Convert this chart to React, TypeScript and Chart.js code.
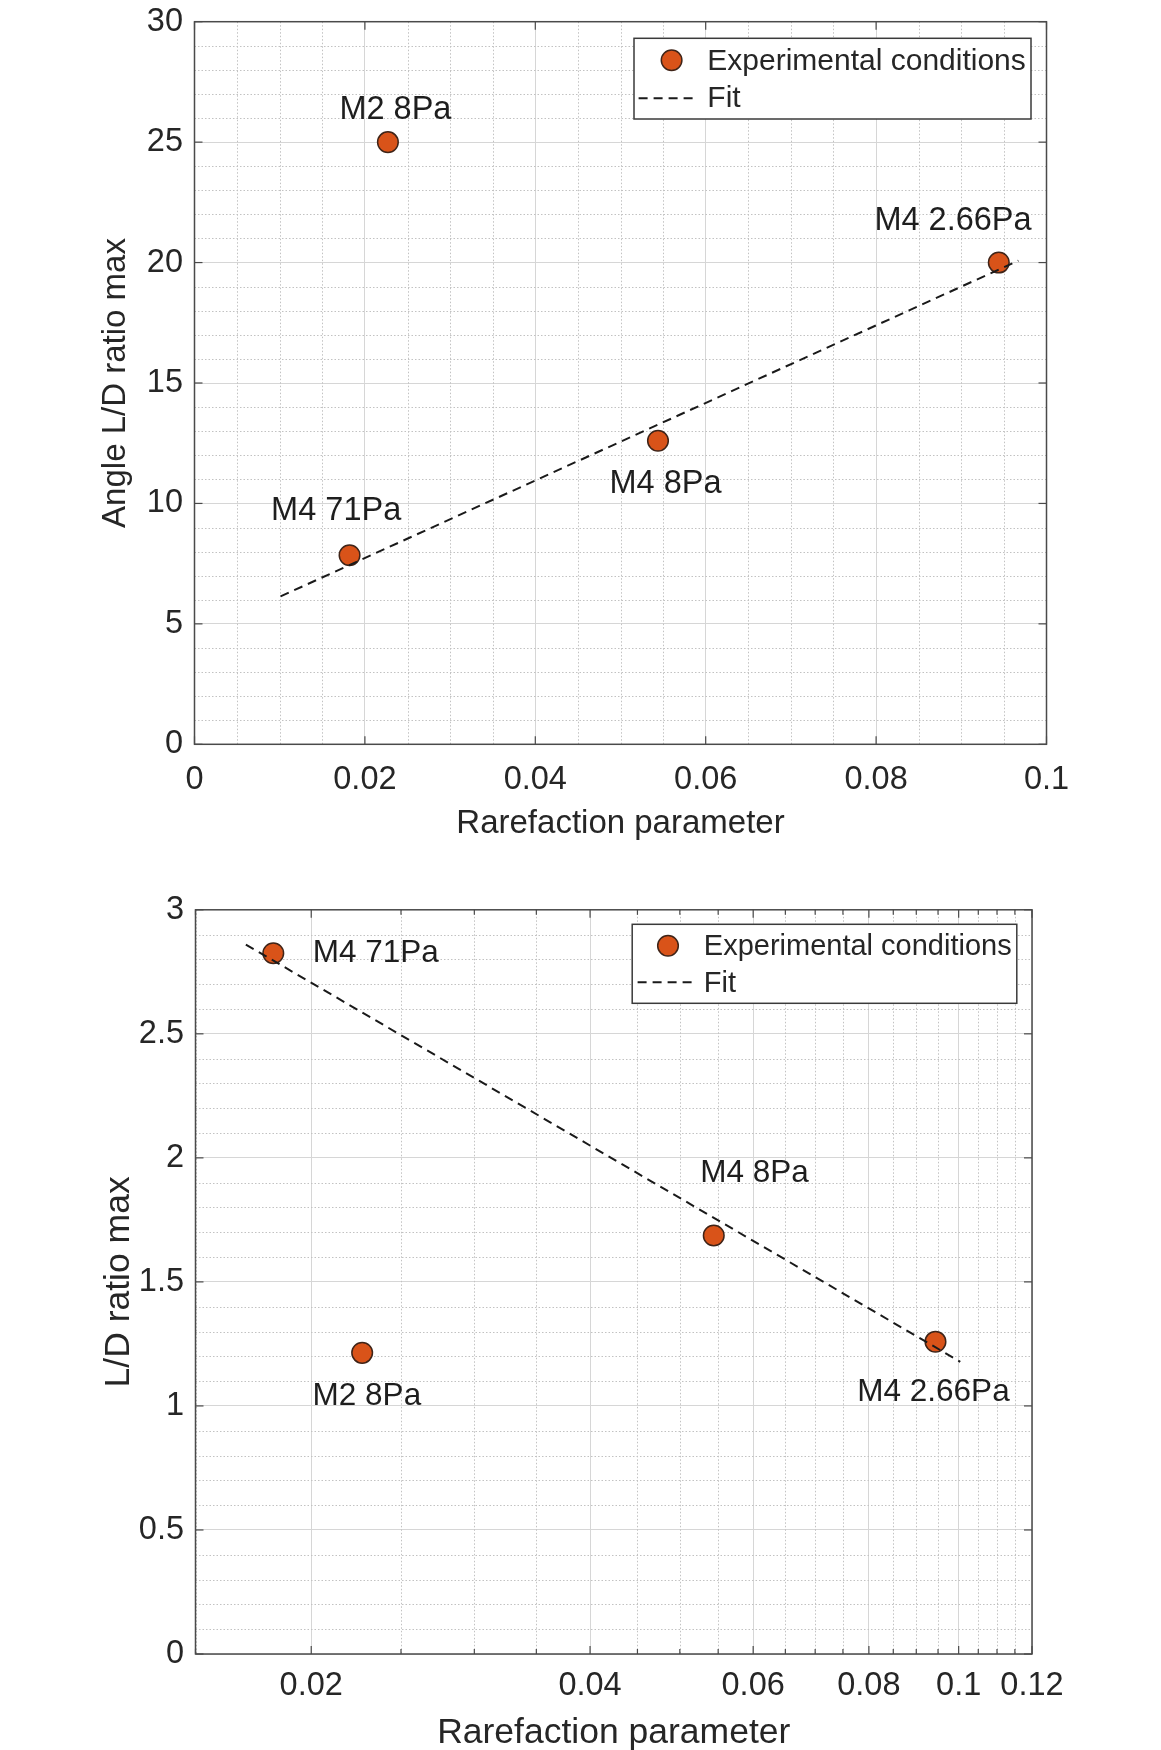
import React, { useEffect, useRef } from "react";
import { Chart, registerables } from "chart.js";

Chart.register(...registerables);

// ---------------- data ----------------
const pointLabels = ["M4 71Pa", "M2 8Pa", "M4 8Pa", "M4 2.66Pa"];
const rarefactionParameter = [0.0182, 0.0227, 0.0544, 0.0944];
const angleLDRatioMax = [7.85, 25.0, 12.6, 20.0];
const ldRatioMax = [2.825, 1.214, 1.687, 1.259];

const angleFitX = [0.0101, 0.0967];
const angleFitY = [6.14, 20.08];
const ldFitX = [0.0170, 0.1004];
const ldFitY = [2.86, 1.178];

const legendLabels = ["Experimental conditions", "Fit"];
const xAxisTitle = "Rarefaction parameter";
const angleYAxisTitle = "Angle L/D ratio max";
const ldYAxisTitle = "L/D ratio max";

const angleXTicks = [0, 0.02, 0.04, 0.06, 0.08, 0.1];
const angleXTickLabels = ["0", "0.02", "0.04", "0.06", "0.08", "0.1"];
const angleYTicks = [0, 5, 10, 15, 20, 25, 30];
const angleYTickLabels = ["0", "5", "10", "15", "20", "25", "30"];
const ldXTicks = [0.02, 0.04, 0.06, 0.08, 0.1, 0.12];
const ldXTickLabels = ["0.02", "0.04", "0.06", "0.08", "0.1", "0.12"];
const ldYTicks = [0, 0.5, 1, 1.5, 2, 2.5, 3];
const ldYTickLabels = ["0", "0.5", "1", "1.5", "2", "2.5", "3"];

// minor grid spacing
const angleXMinorStep = 0.005;
const angleYMinorStep = 1;
const ldXMinorStep = 0.005;
const ldYMinorStep = 0.1;

// ---------------- styles ----------------
const FONT = '"Liberation Sans", Arial, Helvetica, sans-serif';
const MARKER_FILL = "#D95319";
const MARKER_EDGE = "#3f2418";
const TEXT = "#262626";
const NOTE = "#1e1e1e";
const AXIS = "#4a4a4a";
const GRID_MAJOR = "#d6d6d6";
const GRID_MINOR = "#c2c2c2";

function steps(from: number, to: number, step: number): number[] {
  const out: number[] = [];
  const n = Math.round((to - from) / step);
  for (let i = 0; i <= n; i++) out.push(Math.round((from + i * step) * 1e6) / 1e6);
  return out;
}

type Panel = {
  canvasTop: number;
  canvasHeight: number;
  xType: "linear" | "logarithmic";
  xMin: number;
  xMax: number;
  yMin: number;
  yMax: number;
  xTicks: number[];
  xTickLabels: string[];
  yTicks: number[];
  yTickLabels: string[];
  xMinor: number[];
  yMinor: number[];
  xMinorMarks: boolean;
  yValues: number[];
  fitX: number[];
  fitY: number[];
  yTitle: string;
  padTop: number;
  padRight: number;
  yAxisWidth: number;
  xAxisHeight: number;
  xTickPad: number;
  yTickPad: number;
  xTitlePad: number;
  yTitlePad: number;
  tickFont: number;
  titleFont: number;
  legendFont: number;
  noteFont: number;
  noteOffsets: number[][];
  legend: {
    insetRight: number;
    insetTop: number;
    width: number;
    height: number;
    markerDx: number;
    markerDy: number;
    lineX0: number;
    lineX1: number;
    lineDy: number;
    textDx: number;
    row1Dy: number;
    row2Dy: number;
  };
};

const anglePanel: Panel = {
  canvasTop: 0,
  canvasHeight: 880,
  xType: "linear",
  xMin: 0,
  xMax: 0.1,
  yMin: 0,
  yMax: 30,
  xTicks: angleXTicks,
  xTickLabels: angleXTickLabels,
  yTicks: angleYTicks,
  yTickLabels: angleYTickLabels,
  xMinor: steps(0, 0.1, angleXMinorStep),
  yMinor: steps(0, 30, angleYMinorStep),
  xMinorMarks: false,
  yValues: angleLDRatioMax,
  fitX: angleFitX,
  fitY: angleFitY,
  yTitle: angleYAxisTitle,
  padTop: 21.7,
  padRight: 114.5,
  yAxisWidth: 194.5,
  xAxisHeight: 135.7,
  xTickPad: 16,
  yTickPad: 11.5,
  xTitlePad: 39.5,
  yTitlePad: 99.5,
  tickFont: 32.5,
  titleFont: 33,
  legendFont: 30,
  noteFont: 32.5,
  noteOffsets: [[-13.4, -44.6], [7.5, -32.5], [7.5, 43.5], [-45.8, -41.5]],
  legend: {
    insetRight: 15.5,
    insetTop: 16.6,
    width: 397,
    height: 80.7,
    markerDx: 37.6,
    markerDy: 21.9,
    lineX0: 4.6,
    lineX1: 63.3,
    lineDy: 60,
    textDx: 73.3,
    row1Dy: 23,
    row2Dy: 60.5,
  },
};

const ldPanel: Panel = {
  canvasTop: 880,
  canvasHeight: 870,
  xType: "logarithmic",
  xMin: 0.015,
  xMax: 0.12,
  yMin: 0,
  yMax: 3,
  xTicks: ldXTicks,
  xTickLabels: ldXTickLabels,
  yTicks: ldYTicks,
  yTickLabels: ldYTickLabels,
  xMinor: steps(0.015, 0.12, ldXMinorStep),
  yMinor: steps(0, 3, ldYMinorStep),
  xMinorMarks: true,
  yValues: ldRatioMax,
  fitX: ldFitX,
  fitY: ldFitY,
  yTitle: ldYAxisTitle,
  padTop: 29.8,
  padRight: 129,
  yAxisWidth: 195.5,
  xAxisHeight: 96,
  xTickPad: 12.5,
  yTickPad: 11.5,
  xTitlePad: -0.8,
  yTitlePad: 101,
  tickFont: 32.5,
  titleFont: 35.5,
  legendFont: 29,
  noteFont: 31.5,
  noteOffsets: [[102.5, 0], [4.7, 43.7], [40.7, -62.3], [-2, 50.3]],
  legend: {
    insetRight: 15.2,
    insetTop: 14.5,
    width: 384.6,
    height: 79,
    markerDx: 35.8,
    markerDy: 21.4,
    lineX0: 5.4,
    lineX1: 61.5,
    lineDy: 58,
    textDx: 71.6,
    row1Dy: 23,
    row2Dy: 60,
  },
};

function isMajor(v: number, majors: number[]) {
  return majors.some((m) => Math.abs(m - v) < 1e-9);
}

function makeDecor(p: Panel) {
  return {
    id: "matlabDecor",
    beforeDatasetsDraw(chart: any) {
      const { ctx, chartArea: a } = chart;
      const xs = chart.scales.x;
      const ys = chart.scales.y;
      ctx.save();
      ctx.beginPath();
      ctx.rect(a.left, a.top, a.right - a.left, a.bottom - a.top);
      ctx.clip();
      ctx.strokeStyle = GRID_MINOR;
      ctx.lineWidth = 1;
      ctx.setLineDash([1.5, 2]);
      for (const v of p.xMinor) {
        if (isMajor(v, p.xTicks)) continue;
        const px = Math.round(xs.getPixelForValue(v)) + 0.5;
        ctx.beginPath();
        ctx.moveTo(px, a.top);
        ctx.lineTo(px, a.bottom);
        ctx.stroke();
      }
      for (const v of p.yMinor) {
        if (isMajor(v, p.yTicks)) continue;
        const py = Math.round(ys.getPixelForValue(v)) + 0.5;
        ctx.beginPath();
        ctx.moveTo(a.left, py);
        ctx.lineTo(a.right, py);
        ctx.stroke();
      }
      ctx.restore();
    },
    afterDatasetsDraw(chart: any) {
      const { ctx, chartArea: a } = chart;
      const xs = chart.scales.x;
      const ys = chart.scales.y;
      const line = (x0: number, y0: number, x1: number, y1: number) => {
        ctx.beginPath();
        ctx.moveTo(x0, y0);
        ctx.lineTo(x1, y1);
        ctx.stroke();
      };
      ctx.save();
      ctx.setLineDash([]);
      ctx.strokeStyle = AXIS;
      ctx.lineWidth = 1.2;
      const majorLen = 8;
      const minorLen = 5;
      for (const v of p.xTicks) {
        const px = xs.getPixelForValue(v);
        line(px, a.bottom, px, a.bottom - majorLen);
        line(px, a.top, px, a.top + majorLen);
      }
      if (p.xMinorMarks) {
        for (const v of p.xMinor) {
          if (isMajor(v, p.xTicks)) continue;
          const px = xs.getPixelForValue(v);
          line(px, a.bottom, px, a.bottom - minorLen);
          line(px, a.top, px, a.top + minorLen);
        }
      }
      for (const v of p.yTicks) {
        const py = ys.getPixelForValue(v);
        line(a.left, py, a.left + majorLen, py);
        line(a.right, py, a.right - majorLen, py);
      }
      ctx.lineWidth = 1.5;
      ctx.strokeRect(a.left, a.top, a.right - a.left, a.bottom - a.top);

      // point annotations
      ctx.fillStyle = NOTE;
      ctx.font = `${p.noteFont}px ${FONT}`;
      ctx.textBaseline = "middle";
      ctx.textAlign = "center";
      pointLabels.forEach((t, i) => {
        const px = xs.getPixelForValue(rarefactionParameter[i]);
        const py = ys.getPixelForValue(p.yValues[i]);
        ctx.fillText(t, px + p.noteOffsets[i][0], py + p.noteOffsets[i][1]);
      });

      // legend
      const L = p.legend;
      const bx = a.right - L.insetRight - L.width;
      const by = a.top + L.insetTop;
      ctx.fillStyle = "#ffffff";
      ctx.fillRect(bx, by, L.width, L.height);
      ctx.strokeStyle = "#3a3a3a";
      ctx.lineWidth = 1.5;
      ctx.strokeRect(bx, by, L.width, L.height);
      ctx.beginPath();
      ctx.arc(bx + L.markerDx, by + L.markerDy, 10.3, 0, Math.PI * 2);
      ctx.fillStyle = MARKER_FILL;
      ctx.fill();
      ctx.strokeStyle = MARKER_EDGE;
      ctx.lineWidth = 1.5;
      ctx.stroke();
      ctx.strokeStyle = "#1a1a1a";
      ctx.lineWidth = 2;
      ctx.setLineDash([9, 6]);
      line(bx + L.lineX0, by + L.lineDy, bx + L.lineX1, by + L.lineDy);
      ctx.setLineDash([]);
      ctx.fillStyle = TEXT;
      ctx.font = `${p.legendFont}px ${FONT}`;
      ctx.textAlign = "left";
      ctx.textBaseline = "middle";
      ctx.fillText(legendLabels[0], bx + L.textDx, by + L.row1Dy);
      ctx.fillText(legendLabels[1], bx + L.textDx, by + L.row2Dy);
      ctx.restore();
    },
  };
}

function PanelChart({ p }: { p: Panel }) {
  const ref = useRef<HTMLCanvasElement | null>(null);
  useEffect(() => {
    if (!ref.current) return;
    const chart = new Chart(ref.current, {
      type: "scatter",
      data: {
        datasets: [
          {
            type: "line",
            label: legendLabels[1],
            data: p.fitX.map((x, i) => ({ x, y: p.fitY[i] })),
            borderColor: "#1a1a1a",
            borderWidth: 2,
            borderDash: [9, 6],
            pointRadius: 0,
            fill: false,
            tension: 0,
            order: 0,
          } as any,
          {
            type: "scatter",
            label: legendLabels[0],
            data: rarefactionParameter.map((x, i) => ({ x, y: p.yValues[i] })),
            pointRadius: 10.3,
            pointHoverRadius: 10.3,
            pointBackgroundColor: MARKER_FILL,
            pointBorderColor: MARKER_EDGE,
            pointBorderWidth: 1.5,
            order: 1,
          } as any,
        ],
      },
      options: {
        responsive: false,
        animation: false,
        devicePixelRatio: 1,
        events: [],
        layout: { padding: { top: p.padTop, right: p.padRight, bottom: 0, left: 0 } },
        plugins: { legend: { display: false }, tooltip: { enabled: false } },
        scales: {
          x: {
            type: p.xType,
            min: p.xMin,
            max: p.xMax,
            afterBuildTicks: (s: any) => {
              s.ticks = p.xTicks.map((v) => ({ value: v }));
            },
            afterFit: (s: any) => {
              s.height = p.xAxisHeight;
            },
            ticks: {
              autoSkip: false,
              maxRotation: 0,
              padding: p.xTickPad,
              color: TEXT,
              font: { family: FONT, size: p.tickFont, lineHeight: 1.2 },
              callback: (_v: any, i: number) => p.xTickLabels[i],
            },
            grid: { color: GRID_MAJOR, lineWidth: 1, drawTicks: false },
            border: { display: false },
            title: {
              display: true,
              text: xAxisTitle,
              color: TEXT,
              font: { family: FONT, size: p.titleFont, lineHeight: 1 },
              padding: { top: 0, bottom: p.xTitlePad },
            },
          },
          y: {
            type: "linear",
            min: p.yMin,
            max: p.yMax,
            afterBuildTicks: (s: any) => {
              s.ticks = p.yTicks.map((v) => ({ value: v }));
            },
            afterFit: (s: any) => {
              s.width = p.yAxisWidth;
            },
            ticks: {
              autoSkip: false,
              padding: p.yTickPad,
              color: TEXT,
              font: { family: FONT, size: p.tickFont, lineHeight: 0.5 },
              callback: (_v: any, i: number) => p.yTickLabels[i],
            },
            grid: { color: GRID_MAJOR, lineWidth: 1, drawTicks: false },
            border: { display: false },
            title: {
              display: true,
              text: p.yTitle,
              color: TEXT,
              font: { family: FONT, size: p.titleFont, lineHeight: 1 },
              padding: { top: p.yTitlePad, bottom: 0 },
            },
          },
        },
      } as any,
      plugins: [makeDecor(p) as any],
    });
    return () => chart.destroy();
  }, [p]);
  return (
    <div style={{ position: "absolute", left: 0, top: p.canvasTop, width: 1161, height: p.canvasHeight }}>
      <canvas ref={ref} width={1161} height={p.canvasHeight} style={{ display: "block" }} />
    </div>
  );
}

export default function App() {
  return (
    <div
      style={{
        position: "absolute",
        left: 0,
        top: 0,
        width: 1161,
        height: 1750,
        overflow: "hidden",
        background: "#ffffff",
      }}
    >
      <PanelChart p={anglePanel} />
      <PanelChart p={ldPanel} />
    </div>
  );
}
